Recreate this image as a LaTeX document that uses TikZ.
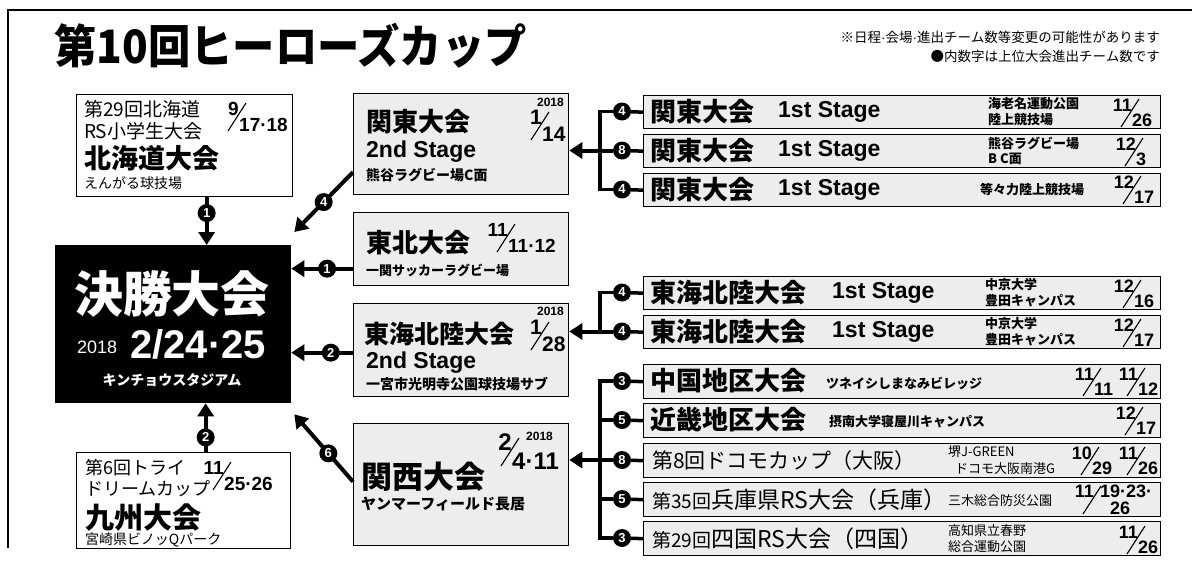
\documentclass[tikz,border=0pt]{standalone}
\usepackage{fontspec}
\setmainfont{Noto Sans CJK JP}
\newfontfamily\lat{Liberation Sans}
\usetikzlibrary{arrows.meta}
\newcommand\fsz[1]{\fontsize{#1}{#1}\selectfont}
\newcommand\md{{\lat ·}}
% fraction-style date: [style]{name}{x}{y}{numerator}{denominator}
\newcommand\frc[6][fr]{%
  \draw[slash] ({#3-9},{#4+14}) -- ({#3+9},{#4-14});
  \node[#1,anchor=south east] (#2n) at ({#3+2},{#4-1}) {#5};
  \node[#1,anchor=north west] (#2d) at ({#3+2},{#4+1}) {#6};
}
\tikzset{
 box/.style={draw,line width=1.3pt,fill=white,inner sep=0pt,anchor=north west},
 gbox/.style={box,fill=black!7},
 rowbox/.style={gbox,minimum width=517pt,minimum height=33pt},
 txt/.style={inner sep=0pt,anchor=west},
 num/.style={circle,fill=black,text=white,inner sep=0pt,minimum size=18pt,font=\lat\bfseries\fsz{13}},
 link/.style={line width=3.5pt},
 arr/.style={line width=4pt,-{Triangle[length=13pt,width=16pt]}},
 slash/.style={line width=1.1pt},
 fr/.style={inner sep=0pt,font=\lat\bfseries\fsz{19}},
 frl/.style={inner sep=0pt,font=\lat\bfseries\fsz{21}},
 frx/.style={inner sep=0pt,font=\lat\bfseries\fsz{24}},
 frs/.style={inner sep=0pt,font=\lat\bfseries\fsz{18}},
 big/.style={txt,font=\fsz{26}\bfseries},
 stage/.style={txt,font=\lat\bfseries\fsz{23}},
 ven/.style={txt,font=\fsz{13}\bfseries},
 venr/.style={txt,font=\fsz{13}},
 yr/.style={inner sep=0pt,font=\lat\bfseries\fsz{12}},
}
\begin{document}
\begin{tikzpicture}[x=1pt,y=-1pt]
\useasboundingbox[fill=white] (0,0) rectangle (1200,562);
\draw[line width=1.3pt] (8,548) -- (8,10) -- (1192,10);

\node[txt,font=\fsz{46}\bfseries] (title) at (54,46) {\scalebox{0.92}[1]{第10回ヒーローズカップ}};
\node[inner sep=0pt,anchor=east,font=\fsz{13.5}] (note1) at (1160,37) {※日程\md 会場\md 進出チーム数等変更の可能性があります};
\node[inner sep=0pt,anchor=east,font=\fsz{13.5}] (note2) at (1160,56) {●内数字は上位大会進出チーム数です};

% Hokkaido
\node[box,minimum width=216pt,minimum height=102pt] (hk) at (76,94) {};
\node[txt,font=\fsz{19}] (hk1) at (84,109) {第29回北海道};
\node[txt,font=\fsz{19}] (hk2) at (84,131) {RS小学生大会};
\node[txt,font=\fsz{27}\bfseries] (hk3) at (84,158) {北海道大会};
\node[txt,font=\fsz{14}] (hk4) at (84,183) {えんがる球技場};
\frc{hkd}{237}{117}{9}{17·18}

% Final
\node[box,fill=black,minimum width=235pt,minimum height=157pt] (fin) at (55,245) {};
\node[inner sep=0pt,text=white,font=\fsz{49}\bfseries] (fin1) at (172,294) {決勝大会};
\node[txt,text=white,font=\lat\fsz{18}] (fin2) at (77,347) {2018};
\node[txt,text=white,font=\lat\bfseries\fsz{40}] (fin3) at (130,344) {2/24·25};
\node[inner sep=0pt,text=white,font=\fsz{14}\bfseries] (fin4) at (172,380) {キンチョウスタジアム};

% Kanto 2nd
\node[gbox,minimum width=215pt,minimum height=101pt] (k2) at (353,93) {};
\node[big] (k2a) at (366,122) {関東大会};
\node[stage] (k2b) at (366,152) {2nd Stage};
\node[txt,font=\fsz{14}\bfseries] (k2c) at (366,175) {熊谷ラグビー場C面};
\node[yr,anchor=east] (k2y) at (564,102) {2018};
\frc[frl]{k2d}{540}{126}{1}{14}

% Tohoku
\node[gbox,minimum width=215pt,minimum height=73pt] (th) at (353,212) {};
\node[big] (th1) at (366,243) {東北大会};
\node[txt,font=\fsz{13}\bfseries] (th2) at (366,270) {一関サッカーラグビー場};
\frc{thd}{506}{238}{11}{11·12}

% Tokai 2nd
\node[gbox,minimum width=215pt,minimum height=93pt] (tk) at (353,303) {};
\node[txt,font=\fsz{25}\bfseries] (tk1) at (364,334) {東海北陸大会};
\node[stage] (tk2) at (366,363) {2nd Stage};
\node[txt,font=\fsz{14}\bfseries] (tk3) at (366,384) {一宮市光明寺公園球技場サブ};
\node[yr,anchor=east] (tky) at (564,311) {2018};
\frc[frl]{tkd}{540}{336}{1}{28}

% Kansai
\node[gbox,minimum width=215pt,minimum height=122pt] (ks) at (353,423) {};
\node[txt,font=\fsz{31}\bfseries] (ks1) at (361,477) {関西大会};
\node[txt,font=\fsz{15}\bfseries] (ks2) at (361,504) {ヤンマーフィールド長居};
\frc[frx]{ksd}{510}{452}{2}{4·11}
\node[yr,anchor=west] (ksy) at (526,436) {2018};

% Kyushu
\node[box,minimum width=214pt,minimum height=96pt] (ky) at (76,452) {};
\node[txt,font=\fsz{18}] (ky1) at (85,468) {第6回トライ};
\node[txt,font=\fsz{18}] (ky2) at (85,489) {ドリームカップ};
\node[txt,font=\fsz{29}\bfseries] (ky3) at (85,517) {九州大会};
\node[txt,font=\fsz{14}] (ky4) at (85,540) {宮崎県ビノッQパーク};
\frc{kyd}{222}{476}{11}{25·26}

% arrows into the final
\draw[arr] ([xshift=22pt]hk.south) -- ([xshift=22pt]hk.south |- fin.north) node[num,pos=0.33] (a1) {1};
\draw[arr] ([yshift=-28pt]k2.west) -- ([xshift=3pt,yshift=13pt]fin.north east) node[num,midway] (a2) {4};
\draw[arr] ([yshift=-19.5pt]th.west) -- ([yshift=-19.5pt]th.west -| fin.east) node[num,pos=0.42] (a3) {1};
\draw[arr] ([yshift=-2.5pt]tk.west) -- ([yshift=-2.5pt]tk.west -| fin.east) node[num,pos=0.36] (a4) {2};
\draw[arr] ([yshift=3pt]ks.west) -- ([xshift=3pt,yshift=-11pt]fin.south east) node[num,pos=0.42] (a5) {6};
\draw[arr] ([xshift=22pt]ky.north) -- ([xshift=22pt]ky.north |- fin.south) node[num,pos=0.3] (a6) {2};

% rows
\node[rowbox] (r1) at (643,95) {};
\node[rowbox] (r2) at (643,134) {};
\node[rowbox] (r3) at (643,173) {};
\node[rowbox] (r4) at (643,276) {};
\node[rowbox] (r5) at (643,315) {};
\node[rowbox,minimum height=34pt] (r6) at (643,364) {};
\node[rowbox,minimum height=34pt] (r7) at (643,403) {};
\node[rowbox,minimum height=34pt] (r8) at (643,443) {};
\node[rowbox,minimum height=34pt] (r9) at (643,482) {};
\node[rowbox,minimum height=34pt] (r10) at (643,521) {};

\node[num] (c1) at (622,111.5) {4};
\node[num] (c2) at (622,150.5) {8};
\node[num] (c3) at (622,189.5) {4};
\node[num] (c4) at (622,292.5) {4};
\node[num] (c5) at (622,331.5) {4};
\node[num] (c6) at (622,381) {3};
\node[num] (c7) at (622,420) {5};
\node[num] (c8) at (622,460) {8};
\node[num] (c9) at (622,499) {5};
\node[num] (c10) at (622,538) {3};

\coordinate (kb1) at (600,150.5);
\coordinate (kb2) at (600,331.5);
\coordinate (kb3) at (600,460);

\foreach \i in {1,...,10} {\draw[link] (c\i) -- (r\i.west);}
\draw[link] (c1) -| (kb1);
\draw[link] (c3) -| (kb1);
\draw[arr] (c2) -- (c2 -| k2.east);
\draw[link] (c4) -| (kb2);
\draw[arr] (c5) -- (c5 -| tk.east);
\draw[link] (c6) -| (kb3);
\draw[link] (c10) -| (kb3);
\draw[link] (c7) -- (c7 -| kb3);
\draw[link] (c9) -- (c9 -| kb3);
\draw[arr] (c8) -- (c8 -| ks.east);

% row texts
\node[big] (r1a) at (650,112) {関東大会};
\node[stage] (r1b) at (778,112) {1st Stage};
\node[ven] (r1c) at (988,104) {海老名運動公園};
\node[ven] (r1d) at (988,120) {陸上競技場};
\frc[frs]{r1f}{1130}{113}{11}{26}

\node[big] (r2a) at (650,151) {関東大会};
\node[stage] (r2b) at (778,151) {1st Stage};
\node[ven] (r2c) at (988,143) {熊谷ラグビー場};
\node[ven] (r2d) at (988,159) {B C面};
\frc[frs]{r2f}{1134}{152}{12}{3}

\node[big] (r3a) at (650,190) {関東大会};
\node[stage] (r3b) at (778,190) {1st Stage};
\node[ven] (r3c) at (980,190) {等々力陸上競技場};
\frc[frs]{r3f}{1132}{190}{12}{17}

\node[big] (r4a) at (650,293) {東海北陸大会};
\node[stage] (r4b) at (832,293) {1st Stage};
\node[ven] (r4c) at (985,285) {中京大学};
\node[ven] (r4d) at (985,301) {豊田キャンパス};
\frc[frs]{r4f}{1132}{294}{12}{16}

\node[big] (r5a) at (650,332) {東海北陸大会};
\node[stage] (r5b) at (832,332) {1st Stage};
\node[ven] (r5c) at (985,324) {中京大学};
\node[ven] (r5d) at (985,340) {豊田キャンパス};
\frc[frs]{r5f}{1132}{333}{12}{17}

\node[big] (r6a) at (650,381) {中国地区大会};
\node[ven] (r6b) at (826,383) {ツネイシしまなみビレッジ};
\frc[frs]{r6f}{1092}{382}{11}{11}
\frc[frs]{r6g}{1136}{382}{11}{12}

\node[big] (r7a) at (650,420) {近畿地区大会};
\node[ven] (r7b) at (829,422) {摂南大学寝屋川キャンパス};
\frc[frs]{r7f}{1134}{421}{12}{17}

\node[txt,font=\fsz{21}] (r8a) at (652,461) {第8回ドコモカップ（大阪）};
\node[venr] (r8b) at (948,452) {堺J-GREEN};
\node[venr] (r8c) at (955,469) {ドコモ大阪南港G};
\frc[frs]{r8f}{1090}{461}{10}{29}
\frc[frs]{r8g}{1136}{461}{11}{26}

\node[txt] (r9a) at (652,500) {{\fsz{19}第35回}{\fsz{23}兵庫県RS大会（兵庫）}};
\node[venr] (r9b) at (948,501) {三木総合防災公園};
\draw[slash] (1083,514) -- (1101,486);
\node[frs,anchor=south east] (r9n) at (1094,498) {11};
\node[frs,anchor=south west] (r9d) at (1100,498) {19·23·};
\node[frs,anchor=north] (r9e) at (1120,502) {26};

\node[txt] (r10a) at (652,539) {{\fsz{19}第29回}{\fsz{23}四国RS大会（四国）}};
\node[venr] (r10b) at (948,531) {高知県立春野};
\node[venr] (r10c) at (948,547) {総合運動公園};
\frc[frs]{r10f}{1136}{540}{11}{26}
\end{tikzpicture}
\end{document}
